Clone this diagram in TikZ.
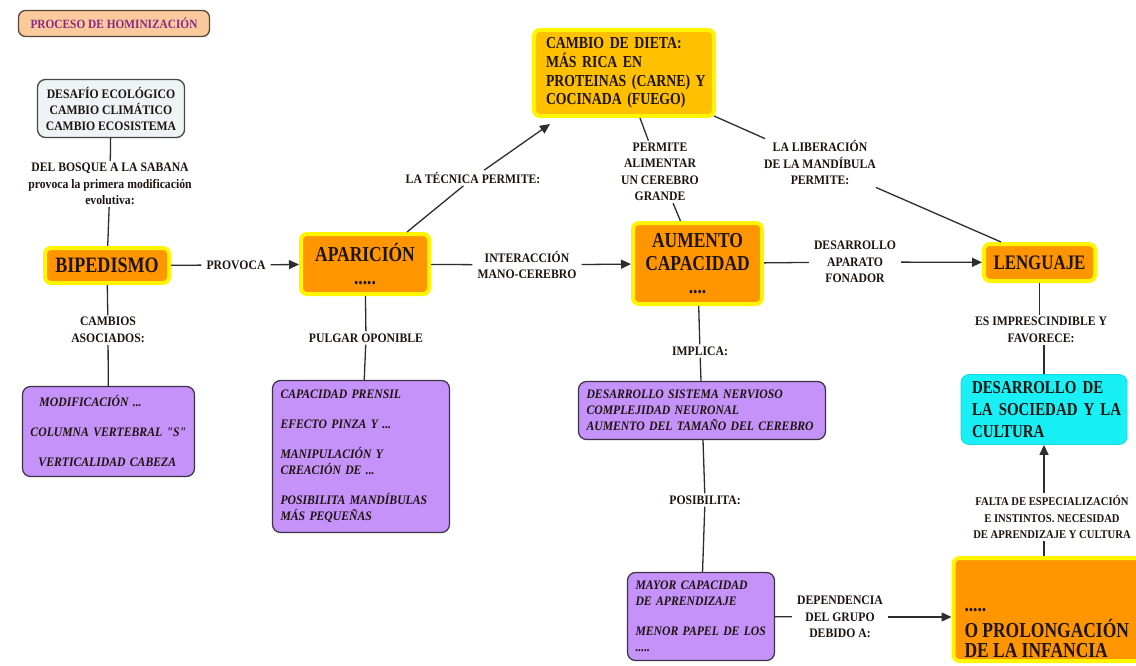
\documentclass[tikz,border=0pt]{standalone}
\usepackage{fontspec}
\setmainfont{Liberation Serif}[FakeStretch=0.9, Ligatures=TeXOff]
\newfontfamily\bigf{Liberation Serif}[FakeStretch=0.82, Ligatures=TeXOff]
\usetikzlibrary{arrows.meta,calc}
\definecolor{txt}{RGB}{30,20,15}
\definecolor{linec}{RGB}{45,45,45}
\definecolor{orng}{RGB}{255,150,0}
\definecolor{glow}{RGB}{255,245,0}
\definecolor{gold}{RGB}{255,192,0}
\definecolor{purp}{RGB}{196,146,248}
\definecolor{pborder}{RGB}{60,50,70}
\definecolor{cyanf}{RGB}{25,240,245}
\definecolor{cyanb}{RGB}{20,215,225}
\definecolor{tfill}{RGB}{250,202,157}
\definecolor{tborder}{RGB}{85,70,60}
\definecolor{tpurp}{RGB}{140,40,130}
\definecolor{dfill}{RGB}{238,243,246}
\definecolor{dborder}{RGB}{70,70,70}
\begin{document}
\begin{tikzpicture}[x=1pt,y=-1pt,
  lbl/.style={font=\fontsize{13}{16.5}\selectfont\bfseries, align=center, inner xsep=5pt, inner ysep=2pt, text=txt},
  con/.style={draw=linec, line width=1.3pt},
  arr/.style={con, -{Triangle[length=10pt,width=9pt]}},
  obox/.style={draw=glow, line width=4pt, fill=orng, rounded corners=6pt, text=txt,
    font=\bigf\fontsize{21.3}{23}\selectfont\bfseries, align=center, inner sep=0pt},
  pbox/.style={draw=pborder, line width=1.2pt, fill=purp, rounded corners=8pt,
    font=\fontsize{13}{16}\selectfont\bfseries\itshape, text=txt, align=left, inner sep=0pt, inner xsep=8pt},
  titlebox/.style={draw=tborder, line width=1.3pt, fill=tfill, rounded corners=7pt, text=tpurp,
    font=\fontsize{12.6}{14}\selectfont\bfseries, inner sep=0pt},
  dbox/.style={draw=dborder, line width=1.3pt, fill=dfill, rounded corners=8pt, align=center,
    font=\fontsize{13}{16}\selectfont\bfseries, text=txt, inner sep=0pt}
]
\path[fill=white] (0,0) rectangle (1136,666);
\useasboundingbox (0,0) rectangle (1136,666);

% boxes
\node[titlebox, minimum width=191pt, minimum height=26pt] (title) at (114,23.5) {PROCESO DE HOMINIZACIÓN};
\node[dbox, minimum width=147pt, minimum height=58pt] (desafio) at (111,108.5) {DESAFÍO ECOLÓGICO\\CAMBIO CLIMÁTICO\\CAMBIO ECOSISTEMA};
\node[obox, minimum width=124pt, minimum height=35pt, font=\bigf\fontsize{22}{24}\selectfont\bfseries] (bip) at (107,265.5) {BIPEDISMO};
\node[obox, minimum width=128pt, minimum height=60pt] (apar) at (365,264) {APARICIÓN\\.....};
\node[obox, fill=gold, minimum width=180pt, minimum height=86pt, align=left, text width=172pt, inner xsep=4pt,
  font=\bigf\fontsize{16.8}{18.6}\selectfont\bfseries] (cambio) at (624,73)
  {\hspace*{8pt}CAMBIO DE DIETA:\\\hspace*{8pt}MÁS RICA EN\\\hspace*{8pt}PROTEINAS (CARNE) Y\\\hspace*{8pt}COCINADA (FUEGO)};
\node[obox, minimum width=129pt, minimum height=81pt] (aum) at (697.5,263.5) {AUMENTO\\CAPACIDAD\\....};
\node[obox, minimum width=111pt, minimum height=37pt, font=\bigf\fontsize{20.6}{23}\selectfont\bfseries] (leng) at (1039.5,262.5) {LENGUAJE};
\node[draw=cyanb, line width=0.8pt, fill=cyanf, rounded corners=8pt, minimum width=166pt, minimum height=70pt,
  align=left, text width=162pt, inner xsep=2pt, inner ysep=0pt, text=txt,
  font=\bigf\fontsize{18.2}{22}\selectfont\bfseries] (soc) at (1044,409.5)
  {\hspace*{9pt}DESARROLLO DE\\\hspace*{9pt}LA SOCIEDAD Y LA\\\hspace*{9pt}CULTURA};
\node[obox, minimum width=195pt, minimum height=103pt, inner xsep=11pt, inner ysep=2pt, align=left] (inf) at (1052.5,609.5)
  {\parbox[c][97pt][b]{176pt}{\raggedright .....\\[3pt] O PROLONGACIÓN\\[-3pt] DE LA INFANCIA}};

\node[pbox, minimum width=172pt, minimum height=90pt, text width=156pt] (p1) at (108.5,431.5)
  {\hspace*{9pt}MODIFICACIÓN ...\\[14pt]COLUMNA VERTEBRAL "S"\\[14pt]\hspace*{8pt}VERTICALIDAD CABEZA};
\node[pbox, minimum width=177pt, minimum height=152pt, text width=161pt] (p2) at (361,456.5)
  {CAPACIDAD PRENSIL\\[14pt]EFECTO PINZA Y ...\\[14pt]MANIPULACIÓN Y\\CREACIÓN DE ...\\[14pt]POSIBILITA MANDÍBULAS\\MÁS PEQUEÑAS};
\node[pbox, minimum width=247pt, minimum height=58pt, text width=231pt] (p3) at (702,410.5)
  {DESARROLLO SISTEMA NERVIOSO\\COMPLEJIDAD NEURONAL\\AUMENTO DEL TAMAÑO DEL CEREBRO};
\node[pbox, minimum width=147pt, minimum height=88pt, text width=131pt] (p4) at (701,616.5)
  {MAYOR CAPACIDAD\\DE APRENDIZAJE\\[14pt]MENOR PAPEL DE LOS\\.....};

% labels
\node[lbl] (lbosque) at (110,184) {DEL BOSQUE A LA SABANA\\provoca la primera modificación\\evolutiva:};
\node[lbl] (lcamb) at (108,330) {CAMBIOS\\ASOCIADOS:};
\node[lbl] (lprov) at (236,265) {PROVOCA};
\node[lbl] (lpulg) at (366,338) {PULGAR OPONIBLE};
\node[lbl] (ltec) at (473,178) {LA TÉCNICA PERMITE:};
\node[lbl] (linter) at (527,265) {INTERACCIÓN\\MANO-CEREBRO};
\node[lbl] (lperm) at (660,172) {PERMITE\\ALIMENTAR\\UN CEREBRO\\GRANDE};
\node[lbl] (llib) at (820,163) {LA LIBERACIÓN\\DE LA MANDÍBULA\\PERMITE:};
\node[lbl] (ldes) at (855,262) {DESARROLLO\\APARATO\\FONADOR};
\node[lbl] (limp) at (700,351) {IMPLICA:};
\node[lbl] (lposib) at (705,500) {POSIBILITA:};
\node[lbl] (les) at (1041,330) {ES IMPRESCINDIBLE Y\\FAVORECE:};
\node[lbl, font=\fontsize{11.8}{16.2}\selectfont\bfseries] (lfalta) at (1052,517) {FALTA DE ESPECIALIZACIÓN\\E INSTINTOS. NECESIDAD\\DE APRENDIZAJE Y CULTURA};
\node[lbl] (ldep) at (840,617) {DEPENDENCIA\\DEL GRUPO\\DEBIDO A:};

% connectors
\draw[con] (desafio) -- (lbosque);
\draw[con] (lbosque) -- (bip);
\draw[con] (bip) -- (lprov);
\draw[arr] (lprov) -- (apar);
\draw[con] (bip) -- (lcamb);
\draw[con] (lcamb) -- (p1);
\draw[con] (apar) -- (lpulg);
\draw[con] (lpulg) -- (p2);
\draw[con] ([xshift=42pt]apar.north) -- (ltec);
\draw[arr] (ltec) -- ([xshift=18pt,yshift=-6pt]cambio.south west);
\draw[con] ([xshift=16pt]cambio.south) -- (lperm);
\draw[con] (lperm) -- ([xshift=-17pt]aum.north);
\draw[con] ([xshift=-2pt,yshift=2pt]cambio.south east) -- (llib);
\draw[con] (llib) -- ([xshift=19pt]leng.north west);
\draw[con] (apar) -- (linter);
\draw[arr] (linter) -- (aum);
\draw[con] (aum) -- (ldes);
\draw[arr] (ldes) -- (leng);
\draw[con] (leng.south) -- (leng.south |- les.north);
\draw[con] (soc.north |- les.south) -- (soc.north);
\draw[con] (aum) -- (limp);
\draw[con] (limp) -- (p3);
\draw[con] (p3) -- (lposib);
\draw[con] (lposib) -- (p4);
\draw[con] (p4) -- (ldep);
\draw[arr] (ldep) -- (inf.west |- ldep);
\draw[con] (inf.north -| soc.south) -- (lfalta.south -| soc.south);
\draw[arr] (lfalta.north -| soc.south) -- (soc.south);
\end{tikzpicture}
\end{document}
